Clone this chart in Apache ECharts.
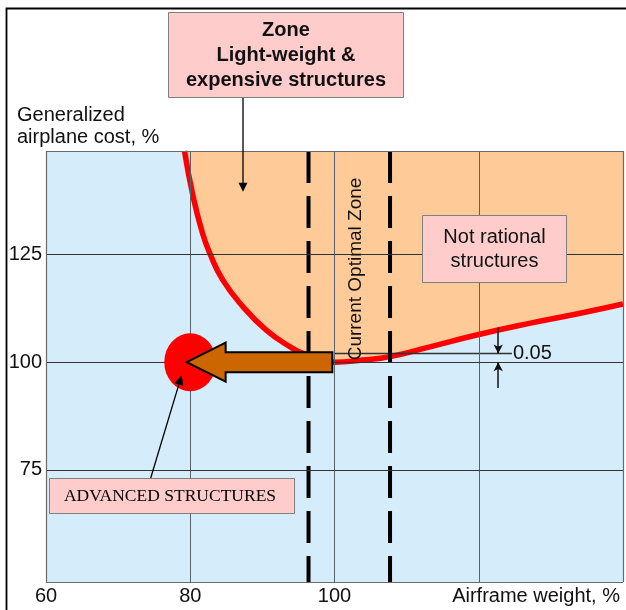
<!DOCTYPE html>
<html>
<head>
<meta charset="utf-8">
<script src="https://cdn.jsdelivr.net/npm/echarts@6/dist/echarts.min.js"></script>
<style>
  html, body { margin: 0; padding: 0; background: #ffffff; }
  #chart { width: 626px; height: 610px; }
</style>
</head>
<body>
<div id="chart"></div>
<script>
// ---- data ----
const xTickLabels = [60, 80, 100];
const yTickLabels = [75, 100, 125];
const xGridValues = [80, 100, 120];
const curveX = [79.2, 80.4, 81.7, 82.7, 84.5, 87.3, 90.5, 93.8, 96.1, 100, 103.9, 107.7, 113.1, 119.7, 127.0, 133.9, 140];
const curveY = [149, 138.4, 129.9, 125.3, 119.1, 112.9, 107.5, 103.6, 101.7, 100.0, 100.5, 101.3, 103.5, 106.3, 109.0, 111.3, 113.5];
const zoneBounds = [96.4, 107.7];
const advancedPoint = [80, 100];
const arrowFrom = [99.7, 100];
const arrowTo = [79.5, 100];
const deltaLineX = [100, 124.6];
const deltaLevel = 102;
const deltaLabel = '0.05';
const deltaArrowX = 122.7;
const deltaArrowDown = [108, 102];
const deltaArrowUp = [94, 100];

const X_MIN = 60, X_MAX = 140, Y_MIN = 49, Y_MAX = 149;
const FONT = '"Liberation Sans", Arial, sans-serif';
const TXT = '#111111';

const curve = curveX.map((x, i) => [x, curveY[i]]);

const chart = echarts.init(document.getElementById('chart'), null, { renderer: 'canvas' });

const gridLineData = [];
xGridValues.forEach(v => gridLineData.push({ xAxis: v, lineStyle: { color: '#56626c', width: 1, type: 'solid' }, label: { show: false } }));
yTickLabels.forEach(v => gridLineData.push({
  yAxis: v,
  lineStyle: { color: '#333333', width: 1, type: 'solid' },
  label: { show: true, position: 'start', distance: 4, formatter: String(v), color: TXT, fontSize: 20, fontFamily: FONT }
}));
// plot frame
[X_MIN, X_MAX].forEach(v => gridLineData.push({ xAxis: v, lineStyle: { color: '#6a6a6a', width: 1.2, type: 'solid' }, label: { show: false } }));
[Y_MIN, Y_MAX].forEach(v => gridLineData.push({ yAxis: v, lineStyle: { color: '#6a6a6a', width: 1.2, type: 'solid' }, label: { show: false } }));

// helper for annotation arrows (pixel layout)
function arrowHead(x0, y0, x1, y1, len, half) {
  const dx = x1 - x0, dy = y1 - y0, L = Math.hypot(dx, dy);
  const ux = dx / L, uy = dy / L;
  const bx = x1 - ux * len, by = y1 - uy * len;
  return [[x1, y1], [bx - uy * half, by + ux * half], [bx + uy * half, by - ux * half]];
}

const SMOOTH = 0.5;

const option = {
  animation: false,
  backgroundColor: '#ffffff',
  grid: { left: 46, top: 151, width: 578, height: 431, show: true, backgroundColor: '#d5ecfb', borderWidth: 0 },
  xAxis: {
    type: 'value', min: X_MIN, max: X_MAX, interval: 20,
    axisLine: { show: false }, axisTick: { show: false }, splitLine: { show: false },
    axisLabel: {
      margin: 4, color: TXT, fontSize: 20, fontFamily: FONT,
      formatter: v => (xTickLabels.indexOf(v) >= 0 ? String(v) : '')
    }
  },
  yAxis: {
    type: 'value', min: Y_MIN, max: Y_MAX,
    axisLine: { show: false }, axisTick: { show: false }, splitLine: { show: false },
    axisLabel: { show: false }
  },
  series: [
    { // expensive zone fill (above the curve)
      type: 'line', data: curve, smooth: SMOOTH, symbol: 'none', silent: true, z: 1,
      lineStyle: { width: 0, opacity: 0 },
      areaStyle: { origin: 'end', color: '#fdca98', opacity: 1 }
    },
    { // grid lines and y tick labels
      type: 'line', data: [], silent: true, z: 2,
      markLine: { silent: true, symbol: 'none', animation: false, data: gridLineData }
    },
    { // cost curve
      type: 'line', data: curve, smooth: SMOOTH, symbol: 'none', silent: true, z: 3,
      lineStyle: { color: '#ff0000', width: 5.5 }
    },
    { // 0.05 reference line
      type: 'line', data: deltaLineX.map(x => [x, deltaLevel]), symbol: 'none', silent: true, z: 3,
      lineStyle: { color: '#333333', width: 1.5 },
      endLabel: { show: true, formatter: deltaLabel, color: TXT, fontSize: 20, fontFamily: FONT, distance: 1 },
      markLine: {
        silent: true, animation: false, symbol: ['none', 'arrow'], symbolSize: [7, 9],
        lineStyle: { color: '#111111', width: 1.5, type: 'solid' }, label: { show: false },
        data: [
          [{ coord: [deltaArrowX, deltaArrowDown[0]] }, { coord: [deltaArrowX, deltaArrowDown[1]] }],
          [{ coord: [deltaArrowX, deltaArrowUp[0]] }, { coord: [deltaArrowX, deltaArrowUp[1]] }]
        ]
      }
    },
    ...zoneBounds.map(x => ({
      type: 'line', data: [[x, Y_MAX], [x, Y_MIN]], symbol: 'none', silent: true, z: 4,
      lineStyle: { color: '#000000', width: 4, type: [32, 13] }
    })),
    { // advanced structures point
      type: 'scatter', data: [advancedPoint], symbol: 'circle', symbolSize: [52, 58], silent: true, z: 5,
      itemStyle: { color: '#ff0000', opacity: 1 }
    },
    { // big arrow toward advanced structures
      type: 'custom', silent: true, z: 6,
      data: [[arrowFrom[0], arrowFrom[1], arrowTo[0], arrowTo[1]]],
      encode: { x: [0, 2], y: [1, 3] },
      renderItem: function (params, api) {
        const a = api.coord([api.value(0), api.value(1)]);
        const b = api.coord([api.value(2), api.value(3)]);
        const headLen = 39, headHalf = 19.5, bodyHalf = 10;
        const yc = b[1];
        const hx = b[0] + headLen;
        return {
          type: 'polygon',
          shape: { points: [[a[0], yc - bodyHalf], [hx, yc - bodyHalf], [hx, yc - headHalf], [b[0], yc], [hx, yc + headHalf], [hx, yc + bodyHalf], [a[0], yc + bodyHalf]] },
          style: { fill: '#cc6600', stroke: '#000000', lineWidth: 2, lineJoin: 'miter' }
        };
      }
    }
  ],
  graphic: [
    // outer frame (left and top edges visible)
    { type: 'rect', shape: { x: 6.5, y: 8.5, width: 800, height: 800 }, style: { fill: 'none', stroke: '#000000', lineWidth: 1.8 }, silent: true, z: 0 },
    // y axis title
    { type: 'text', x: 17, y: 115, style: { text: 'Generalized', font: '20px ' + FONT, fill: TXT, align: 'left', verticalAlign: 'middle', textAlign: 'left', textVerticalAlign: 'middle' }, silent: true },
    { type: 'text', x: 17, y: 137, style: { text: 'airplane cost, %', font: '20px ' + FONT, fill: TXT, align: 'left', verticalAlign: 'middle', textAlign: 'left', textVerticalAlign: 'middle' }, silent: true },
    // x axis title
    { type: 'text', x: 620, y: 596, style: { text: 'Airframe weight, %', font: '20px ' + FONT, fill: TXT, align: 'right', verticalAlign: 'middle', textAlign: 'right', textVerticalAlign: 'middle' }, silent: true },
    // top zone box
    { type: 'rect', shape: { x: 168.5, y: 12.5, width: 235, height: 85 }, style: { fill: '#ffcccc', stroke: '#7f7f7f', lineWidth: 1 }, silent: true, z: 10 },
    { type: 'text', x: 286, y: 55, style: { text: 'Zone\nLight-weight &\nexpensive structures', font: 'bold 20px ' + FONT, lineHeight: 25, fill: TXT, align: 'center', verticalAlign: 'middle', textAlign: 'center', textVerticalAlign: 'middle' }, silent: true, z: 11 },
    { type: 'line', shape: { x1: 243, y1: 98, x2: 243, y2: 184 }, style: { stroke: '#000000', lineWidth: 1.3 }, silent: true, z: 10 },
    { type: 'polygon', shape: { points: arrowHead(243, 98, 243, 191.7, 9, 4.5) }, style: { fill: '#000000' }, silent: true, z: 10 },
    // not rational box
    { type: 'rect', shape: { x: 422.5, y: 215.5, width: 144, height: 67 }, style: { fill: '#ffcccc', stroke: '#7f7f7f', lineWidth: 1 }, silent: true, z: 10 },
    { type: 'text', x: 494.5, y: 249.5, style: { text: 'Not rational\nstructures', font: '20px ' + FONT, lineHeight: 24, fill: TXT, align: 'center', verticalAlign: 'middle', textAlign: 'center', textVerticalAlign: 'middle' }, silent: true, z: 11 },
    // current optimal zone label
    { type: 'text', x: 356, y: 269, rotation: Math.PI / 2, style: { text: 'Current Optimal Zone', font: '19px ' + FONT, fill: TXT, align: 'center', verticalAlign: 'middle', textAlign: 'center', textVerticalAlign: 'middle' }, silent: true, z: 11 },
    // advanced structures box
    { type: 'rect', shape: { x: 49.5, y: 478.5, width: 245, height: 35 }, style: { fill: '#ffcccc', stroke: '#7f7f7f', lineWidth: 1 }, silent: true, z: 10 },
    { type: 'text', x: 170, y: 496.5, style: { text: 'ADVANCED STRUCTURES', font: '17.5px "Liberation Serif", "Times New Roman", serif', fill: '#000000', align: 'center', verticalAlign: 'middle', textAlign: 'center', textVerticalAlign: 'middle' }, silent: true, z: 11 },
    { type: 'line', shape: { x1: 150.7, y1: 478, x2: 178.8, y2: 384.6 }, style: { stroke: '#000000', lineWidth: 1.3 }, silent: true, z: 10 },
    { type: 'polygon', shape: { points: arrowHead(150.7, 478, 181.7, 375, 10, 4.5) }, style: { fill: '#000000' }, silent: true, z: 10 }
  ]
};

chart.setOption(option);
</script>
</body>
</html>
